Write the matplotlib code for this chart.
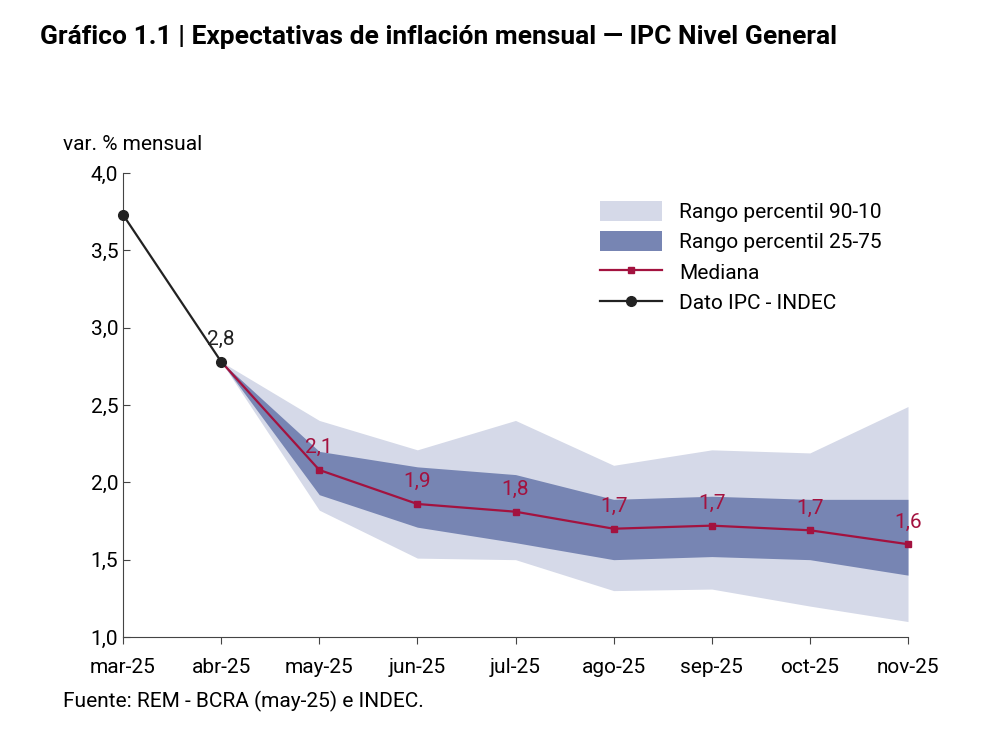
import numpy as np
import matplotlib.pyplot as plt

plt.rcParams['font.family'] = ['Roboto', 'DejaVu Sans']

meses = ["mar-25", "abr-25", "may-25", "jun-25", "jul-25", "ago-25", "sep-25", "oct-25", "nov-25"]
ipc = [3.73, 2.78]
mediana = [2.78, 2.08, 1.86, 1.81, 1.70, 1.72, 1.69, 1.60]
p75 = [2.78, 2.20, 2.10, 2.05, 1.89, 1.91, 1.89, 1.89]
p25 = [2.78, 1.92, 1.71, 1.61, 1.50, 1.52, 1.50, 1.40]
p90 = [2.78, 2.40, 2.21, 2.40, 2.11, 2.21, 2.19, 2.49]
p10 = [2.78, 1.82, 1.51, 1.50, 1.30, 1.31, 1.20, 1.10]
etiquetas = ["2,1", "1,9", "1,8", "1,7", "1,7", "1,7", "1,6"]

x = np.arange(len(meses))
xf = x[1:]

fig = plt.figure(figsize=(10, 7.39), dpi=100)
ax = fig.add_axes([0.123, 0.138, 0.785, 0.628])
ax.fill_between(xf, p10, p90, color="#d5d9e8", lw=0, label="Rango percentil 90-10")
ax.fill_between(xf, p25, p75, color="#7785b3", lw=0, label="Rango percentil 25-75")
ax.plot(xf, mediana, color="#a3123f", lw=1.6, marker="s", ms=5, label="Mediana")
ax.plot(x[:2], ipc, color="#222222", lw=1.6, marker="o", ms=7, label="Dato IPC - INDEC", zorder=5)

ax.annotate("2,8", (1, ipc[1]), xytext=(0, 12), textcoords="offset points", ha="center", fontsize=15, color="#222222")
for xi, yi, t in zip(xf[1:], mediana[1:], etiquetas):
    ax.annotate(t, (xi, yi), xytext=(0, 12), textcoords="offset points", ha="center", fontsize=15, color="#a3123f")

ax.set_xlim(0, 8)
ax.set_ylim(1.0, 4.0)
ax.set_xticks(x)
ax.set_xticklabels(meses)
ax.set_yticks([1.0, 1.5, 2.0, 2.5, 3.0, 3.5, 4.0])
ax.set_yticklabels(["1,0", "1,5", "2,0", "2,5", "3,0", "3,5", "4,0"])
ax.tick_params(axis="both", labelsize=15, color="#444444", length=5)
ax.tick_params(axis="y", direction="in")
ax.tick_params(axis="x", pad=10)
for s in ["top", "right"]:
    ax.spines[s].set_visible(False)
for s in ["left", "bottom"]:
    ax.spines[s].set_color("#444444")
for art in ax.lines:
    art.set_clip_on(False)

ax.legend(loc="upper right", bbox_to_anchor=(0.99, 0.98), frameon=False, fontsize=15,
          handlelength=3.0, handleheight=1.1, labelspacing=0.45)

fig.text(0.063, 0.797, "var. % mensual", fontsize=15)
fig.text(0.04, 0.94, "Gráfico 1.1 | Expectativas de inflación mensual — IPC Nivel General",
         fontsize=19, fontweight="bold", stretch="condensed")
fig.text(0.063, 0.043, "Fuente: REM - BCRA (may-25) e INDEC.", fontsize=15)

fig.savefig("out.png")
